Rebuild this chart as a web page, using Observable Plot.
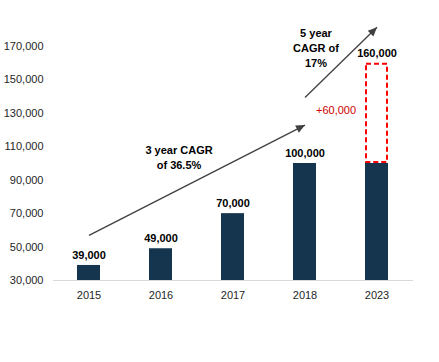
<!DOCTYPE html>
<html>
<head>
<meta charset="utf-8">
<script src="https://cdn.jsdelivr.net/npm/d3@7"></script>
<script src="https://cdn.jsdelivr.net/npm/@observablehq/plot@0.6"></script>
<style>
  html, body { margin: 0; padding: 0; background: #fff; }
</style>
</head>
<body>
<div id="chart"></div>
<script>
// ---- data ----
const years = ["2015", "2016", "2017", "2018", "2023"];
const values = [39000, 49000, 70000, 100000, 100000];
const increase = [0, 0, 0, 0, 60000];
const yTicks = [30000, 50000, 70000, 90000, 110000, 130000, 150000, 170000];

const arrowFromYear = ["2015", "2018"];
const arrowFromValue = [57000, 139500];
const arrowToYear = ["2018", "2023"];
const arrowToValue = [123000, 181500];

const noteYear = ["2016", "2018"];
const noteValue = [103900, 169700];
const noteText = ["3 year CAGR\nof 36.5%", "5 year\nCAGR of\n17%"];
const noteDx = [18, 11];

const increaseLabel = "+60,000";
const increaseValue = 131700;

// ---- build tables ----
const bars = years.map((year, i) => ({year, value: values[i], total: values[i] + increase[i]}));
const projected = bars.filter(d => d.total > d.value);
const arrows = arrowFromYear.map((y, i) => ({
  x1: y, y1: arrowFromValue[i], x2: arrowToYear[i], y2: arrowToValue[i]
}));
const notes = noteYear.map((y, i) => ({year: y, value: noteValue[i], text: noteText[i], dx: noteDx[i]}));

function triangleMarker(color) {
  const m = d3.create("svg:marker")
    .attr("viewBox", "-5 -5 10 10")
    .attr("markerWidth", 10)
    .attr("markerHeight", 9)
    .attr("markerUnits", "userSpaceOnUse")
    .attr("refX", 5)
    .attr("refY", 0)
    .attr("orient", "auto");
  m.append("path").attr("d", "M-5,-4.5L5,0L-5,4.5Z").attr("fill", color).attr("stroke", "none");
  return m.node();
}

const fmt = d3.format(",");

const chart = Plot.plot({
  width: 439,
  height: 362,
  marginLeft: 53,
  marginRight: 26,
  marginTop: 46,
  marginBottom: 82,
  style: {
    fontFamily: "Arial, 'Liberation Sans', sans-serif",
    fontSize: "11px",
    color: "#262626",
    background: "#fff",
    overflow: "visible"
  },
  x: {domain: years, paddingInner: 0.68, paddingOuter: 0.34, label: null, tickSize: 0, tickPadding: 11},
  y: {domain: [30000, 170000], ticks: yTicks, tickFormat: fmt, label: null, tickSize: 0, tickPadding: 10},
  marks: [
    Plot.barY(bars, {x: "year", y1: 30000, y2: "value", fill: "#15354f"}),
    Plot.barY(projected, {x: "year", y1: "value", y2: "total", fill: "none", stroke: "#ff0000",
      strokeWidth: 2, strokeDasharray: "5,3", inset: 1}),
    Plot.ruleY([30000], {stroke: "#d9d9d9", strokeWidth: 1}),
    Plot.text(bars, {x: "year", y: "total", text: d => fmt(d.total), dy: -10, fill: "#000",
      fontWeight: "bold", fontSize: 11}),
    Plot.link(arrows, {x1: "x1", y1: "y1", x2: "x2", y2: "y2", stroke: "#404040", strokeWidth: 1.3,
      markerEnd: triangleMarker}),
    ...notes.map(n => Plot.text([n], {x: "year", y: "value", text: "text", dx: n.dx, fill: "#000",
      fontWeight: "bold", fontSize: 11, lineHeight: 1.36})),
    Plot.text([increaseLabel], {x: () => "2023", y: () => increaseValue, text: d => d, dx: -41,
      fill: "#d00000", fontSize: 11})
  ]
});

document.getElementById("chart").appendChild(chart);
</script>
</body>
</html>
